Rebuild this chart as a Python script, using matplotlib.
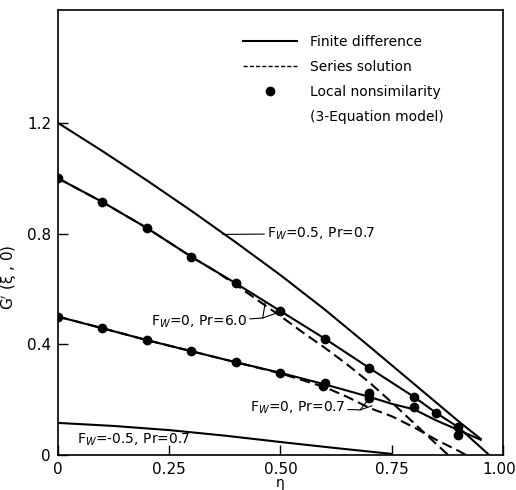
import numpy as np
import matplotlib
matplotlib.use("Agg")
import matplotlib.pyplot as plt
from matplotlib.lines import Line2D
from matplotlib.transforms import ScaledTranslation

# finite difference, Fw = 0.5, Pr = 0.7
eta_fw05 = [0, 0.1, 0.2, 0.3, 0.4, 0.5, 0.6, 0.7, 0.8, 0.9, 0.95]
g_fw05 = [1.2, 1.098, 0.992, 0.882, 0.768, 0.65, 0.525, 0.392, 0.257, 0.122, 0.058]

# finite difference, Fw = 0, Pr = 6.0
eta_pr6 = [0, 0.1, 0.2, 0.3, 0.4, 0.5, 0.6, 0.7, 0.8, 0.85, 0.9, 0.969]
g_pr6 = [1.0, 0.914, 0.82, 0.716, 0.62, 0.52, 0.42, 0.314, 0.21, 0.152, 0.10, 0.0]

# series solution, Fw = 0, Pr = 6.0
eta_pr6_ser = [0, 0.1, 0.2, 0.3, 0.35, 0.4, 0.45, 0.5, 0.55, 0.6, 0.65, 0.7, 0.75, 0.8, 0.85, 0.877]
g_pr6_ser = [1.0, 0.914, 0.82, 0.716, 0.668, 0.615, 0.558, 0.502, 0.443, 0.387, 0.327, 0.262, 0.19, 0.115, 0.04, 0.0]

# local nonsimilarity, Fw = 0, Pr = 6.0
eta_pr6_ln = [0, 0.1, 0.2, 0.3, 0.4, 0.5, 0.6, 0.7, 0.8, 0.85, 0.9]
g_pr6_ln = [1.0, 0.914, 0.82, 0.716, 0.62, 0.52, 0.42, 0.314, 0.21, 0.152, 0.10]

# finite difference, Fw = 0, Pr = 0.7
eta_pr07 = [0, 0.1, 0.2, 0.3, 0.4, 0.5, 0.6, 0.7, 0.75, 0.8, 0.85, 0.9, 0.95]
g_pr07 = [0.5, 0.458, 0.415, 0.375, 0.335, 0.297, 0.255, 0.21, 0.185, 0.165, 0.125, 0.09, 0.055]

# series solution, Fw = 0, Pr = 0.7
eta_pr07_ser = [0, 0.1, 0.2, 0.3, 0.4, 0.5, 0.6, 0.65, 0.7, 0.75, 0.8, 0.85, 0.9, 0.917]
g_pr07_ser = [0.5, 0.458, 0.415, 0.375, 0.335, 0.295, 0.245, 0.21, 0.17, 0.14, 0.10, 0.055, 0.015, 0.0]

# local nonsimilarity, Fw = 0, Pr = 0.7
eta_pr07_ln = [0, 0.1, 0.2, 0.3, 0.4, 0.5, 0.595, 0.6, 0.7, 0.7, 0.8, 0.9]
g_pr07_ln = [0.5, 0.458, 0.415, 0.375, 0.335, 0.297, 0.248, 0.262, 0.224, 0.205, 0.173, 0.072]

# finite difference, Fw = -0.5, Pr = 0.7
eta_fwm05 = [0, 0.125, 0.25, 0.375, 0.5, 0.625, 0.75]
g_fwm05 = [0.116, 0.105, 0.09, 0.07, 0.047, 0.025, 0.004]

x_ticks = [0, 0.25, 0.5, 0.75, 1.0]
x_labels = ["0", "0.25", "0.50", "0.75", "1.00"]
y_ticks = [0, 0.4, 0.8, 1.2]
y_labels = ["0", "0.4", "0.8", "1.2"]

fig = plt.figure(figsize=(5.16, 4.90), dpi=100)
ax = fig.add_axes([0.1124, 0.0714, 0.8624, 0.9082])

lw = 1.5
dash = (5, 2.5)

ax.plot(eta_fw05, g_fw05, color="black", lw=lw)
ax.plot(eta_pr6, g_pr6, color="black", lw=lw)
ax.plot(eta_pr6_ser, g_pr6_ser, color="black", lw=lw, dashes=dash)
ax.plot(eta_pr6_ln, g_pr6_ln, "o", color="black", ms=6)
ax.plot(eta_pr07, g_pr07, color="black", lw=lw)
ax.plot(eta_pr07_ser, g_pr07_ser, color="black", lw=lw, dashes=dash)
ax.plot(eta_pr07_ln, g_pr07_ln, "o", color="black", ms=6)
ax.plot(eta_fwm05, g_fwm05, color="black", lw=lw)

ax.set_xlim(0, 1.0)
ax.set_ylim(0, 1.608)
ax.set_xticks(x_ticks)
ax.set_xticklabels(x_labels)
ax.set_yticks(y_ticks)
ax.set_yticklabels(y_labels)
ax.tick_params(direction="in", length=7, width=1, labelsize=11)
ax.tick_params(axis="x", pad=5)
ax.tick_params(axis="y", pad=5)
for s in ax.spines.values():
    s.set_linewidth(1.2)

# keep "1.00" inside the picture
last = ax.get_xticklabels()[-1]
last.set_transform(last.get_transform() + ScaledTranslation(-4 / 100, 0, fig.dpi_scale_trans))

ax.set_xlabel("η", fontsize=10)
ax.xaxis.set_label_coords(0.5, -0.047)
ax.set_ylabel("G$'$ (ξ , 0)", fontsize=11)
ax.yaxis.set_label_coords(-0.088, 0.40)

# annotations
fs = 10
thin = dict(arrowstyle="-", color="black", lw=0.8, shrinkA=0, shrinkB=0)

ax.annotate("F$_W$=0.5, Pr=0.7", xy=(0.37, 0.797), xytext=(0.47, 0.80),
            fontsize=fs, ha="left", va="center", arrowprops=thin)

ax.annotate("F$_W$=0, Pr=6.0", xy=(0.46, 0.495), xytext=(0.425, 0.48),
            fontsize=fs, ha="right", va="center", arrowprops=thin)
ax.annotate("", xy=(0.466, 0.553), xytext=(0.46, 0.495), arrowprops=thin)
ax.annotate("", xy=(0.498, 0.517), xytext=(0.46, 0.495), arrowprops=thin)

ax.annotate("F$_W$=0, Pr=0.7", xy=(0.679, 0.163), xytext=(0.645, 0.17),
            fontsize=fs, ha="right", va="center", arrowprops=thin)
ax.annotate("", xy=(0.70, 0.206), xytext=(0.679, 0.163), arrowprops=thin)
ax.annotate("", xy=(0.706, 0.178), xytext=(0.679, 0.163), arrowprops=thin)

ax.text(0.043, 0.054, "F$_W$=-0.5, Pr=0.7", fontsize=fs, ha="left", va="center")

handles = [
    Line2D([], [], color="black", lw=lw),
    Line2D([], [], color="black", lw=1.0, dashes=(3, 1.5)),
    Line2D([], [], color="black", marker="o", ms=6, linestyle="none"),
    Line2D([], [], linestyle="none"),
]
labels = ["Finite difference", "Series solution", "Local nonsimilarity", "(3-Equation model)"]
ax.legend(handles, labels, loc="upper left", bbox_to_anchor=(0.416, 0.944),
          frameon=False, fontsize=10, handlelength=3.9, handletextpad=0.95,
          labelspacing=0.8, borderpad=0, borderaxespad=0)

fig.savefig("out.png", dpi=100)
